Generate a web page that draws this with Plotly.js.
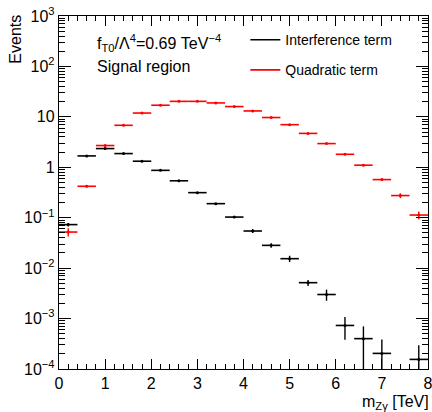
<!DOCTYPE html>
<html>
<head>
<meta charset="utf-8">
<script src="https://cdn.plot.ly/plotly-3.0.1.min.js"></script>
<style>html,body{margin:0;padding:0;background:#fff;}#chart{width:432px;height:412px;}</style>
</head>
<body>
<div id="chart"></div>
<script>
// Bin centres of m_Zγ [TeV] (bin width 0.4)
const binCenters = [0.2,0.6,1.0,1.4,1.8,2.2,2.6,3.0,3.4,3.8,4.2,4.6,5.0,5.4,5.8,6.2,6.6,7.0,7.4,7.8];
const binHalfWidth = [0.2,0.2,0.2,0.2,0.2,0.2,0.2,0.2,0.2,0.2,0.2,0.2,0.2,0.2,0.2,0.2,0.2,0.2,0.2,0.2];
// Interference term
const interference = [0.073,1.68,2.35,1.87,1.32,0.87,0.54,0.314,0.19,0.103,0.0545,0.0283,0.0154,0.00515,0.0030,0.00073,0.0004,0.000204,null,0.000155];
const interferenceErr = [0.006,0.03,0.04,0.03,0.02,0.015,0.01,0.007,0.005,0.004,0.005,0.003,0.0022,0.0007,0.00075,0.00035,0.0003,0.00018,null,0.00014];
// Quadratic term
const quadratic = [0.052,0.42,2.7,6.8,11.9,17.0,20.3,20.3,18.9,16.0,13.1,9.7,7.0,4.7,2.95,1.81,1.1,0.57,0.275,0.113];
const quadraticErr = [0.0095,0.02,0.05,0.08,0.1,0.1,0.1,0.1,0.1,0.1,0.08,0.07,0.06,0.05,0.04,0.04,0.04,0.03,0.03,0.02];
// Axis ticks
const yTickVals = [1e-4,1e-3,1e-2,1e-1,1,10,100,1000];
const yTickText = ['10<sup>−4</sup>','10<sup>−3</sup>','10<sup>−2</sup>','10<sup>−1</sup>','1','10','10<sup>2</sup>','10<sup>3</sup>'];
const xTickVals = [0,1,2,3,4,5,6,7,8];
const xTickText = ['0','1','2','3','4','5','6','7','8'];

const yMinor = [];
for (let d = -4; d < 3; d++) for (let k = 2; k <= 9; k++) yMinor.push(k * Math.pow(10, d));

const FONT = 'Liberation Sans, Arial, Helvetica, sans-serif';

function hist(y, err, color, name) {
  return {
    type: 'scatter', mode: 'markers', x: binCenters, y: y, name: name,
    showlegend: false,
    marker: {color: color, size: 3},
    error_x: {type: 'data', array: binHalfWidth, color: color, thickness: 1.6, width: 0, visible: true},
    error_y: {type: 'data', array: err, color: color, thickness: 1.4, width: 0, visible: true}
  };
}
const data = [
  hist(interference, interferenceErr, '#000000', 'Interference term'),
  hist(quadratic, quadraticErr, '#ff0000', 'Quadratic term'),
  {type:'scatter', mode:'lines', x:[null], y:[null], name:'Interference term', line:{color:'#000000', width:1.6}, legendgroup:'a'},
  {type:'scatter', mode:'lines', x:[null], y:[null], name:'Quadratic term', line:{color:'#ff0000', width:1.6}, legendgroup:'b'}
];

const layout = {
  width: 432, height: 412,
  margin: {l: 59, r: 4, t: 16, b: 43, pad: 0},
  paper_bgcolor: '#fff', plot_bgcolor: '#fff',
  font: {family: FONT, size: 15, color: '#000'},
  showlegend: true,
  legend: {x: 0.505, y: 0.977, xanchor: 'left', yanchor: 'top', bgcolor: 'rgba(0,0,0,0)',
           font: {family: FONT, size: 14, color: '#000'}, traceorder: 'grouped', tracegroupgap: 9},
  xaxis: {
    range: [0, 8.00001], showgrid: false, zeroline: false,
    showline: true, linecolor: '#000', linewidth: 1.2, mirror: 'ticks',
    ticks: 'inside', ticklen: 10, tickwidth: 1, tickcolor: '#000',
    tickmode: 'array', tickvals: xTickVals, ticktext: xTickText, tickfont: {family: FONT, size: 16},
    ticklabeloverflow: 'allow',
    minor: {dtick: 0.2, ticks: 'inside', ticklen: 5, tickwidth: 1, tickcolor: '#000', showgrid: false}
  },
  yaxis: {
    type: 'log', range: [-4, 3], showgrid: false, zeroline: false,
    showline: true, linecolor: '#000', linewidth: 1.2, mirror: 'ticks',
    ticks: 'inside', ticklen: 12, tickwidth: 1, tickcolor: '#000',
    tickvals: yTickVals, ticktext: yTickText, tickfont: {family: FONT, size: 16},
    minor: {tickvals: yMinor, ticks: 'inside', ticklen: 6, tickwidth: 1, tickcolor: '#000', showgrid: false}
  },
  annotations: [
    {xref:'paper', yref:'paper', x:-0.1165, y:1.008, xanchor:'center', yanchor:'top', textangle:-90,
     text:'Events', showarrow:false, font:{family:FONT, size:16}},
    {xref:'paper', yref:'paper', x:1.008, y:-0.096, xanchor:'right', yanchor:'middle',
     text:'m<sub>Zγ</sub> [TeV]', showarrow:false, font:{family:FONT, size:16}},
    {xref:'paper', yref:'paper', x:0.0976, y:0.9235, xanchor:'left', yanchor:'middle',
     text:'f<sub>T0</sub>/Λ<sup>4</sup>=0.69 TeV<sup>−4</sup>', showarrow:false, font:{family:FONT, size:16}},
    {xref:'paper', yref:'paper', x:0.0976, y:0.858, xanchor:'left', yanchor:'middle',
     text:'Signal region', showarrow:false, font:{family:FONT, size:16}}
  ]
};

Plotly.newPlot('chart', data, layout, {displayModeBar: false, staticPlot: true});
</script>
</body>
</html>
